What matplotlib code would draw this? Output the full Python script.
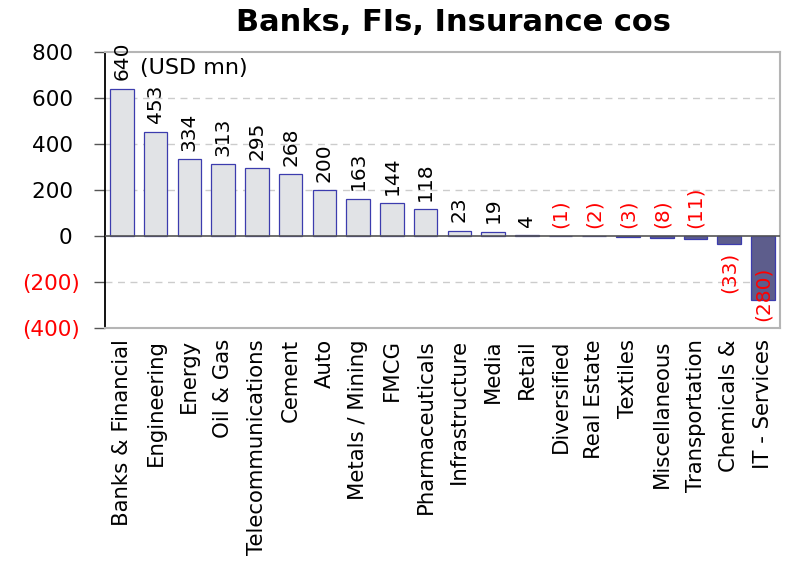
import matplotlib
matplotlib.use("Agg")
import matplotlib.pyplot as plt
from matplotlib.ticker import FuncFormatter

# data (USD mn)
sectors = [
    "Banks & Financial", "Engineering", "Energy", "Oil & Gas", "Telecommunications",
    "Cement", "Auto", "Metals / Mining", "FMCG", "Pharmaceuticals", "Infrastructure",
    "Media", "Retail", "Diversified", "Real Estate", "Textiles", "Miscellaneous",
    "Transportation", "Chemicals &", "IT - Services",
]
flows = [640, 453, 334, 313, 295, 268, 200, 163, 144, 118, 23, 19, 4,
         -1, -2, -3, -8, -11, -33, -280]
yticks = [-400, -200, 0, 200, 400, 600, 800]


def fmt(v):
    return f"({abs(v):,.0f})" if v < 0 else f"{v:,.0f}"


fig = plt.figure(figsize=(7.87, 5.69), dpi=100)
ax = fig.add_axes([0.1334, 0.4235, 0.8576, 0.4851])

pos_fill, neg_fill, edge = "#e1e3e6", "#5d5d8c", "#3c3cae"
colors = [pos_fill if v >= 0 else neg_fill for v in flows]
x = range(len(flows))
ax.bar(x, flows, width=0.7, color=colors, edgecolor=edge, linewidth=0.9, zorder=3)

ax.set_ylim(yticks[0], yticks[-1])
ax.set_xlim(-0.5, len(flows) - 0.5)
ax.set_yticks(yticks)
# accounting style: positives leave room for the closing parenthesis
ax.yaxis.set_major_formatter(FuncFormatter(lambda v, _: fmt(v) if v < 0 else fmt(v) + " "))
for lbl, v in zip(ax.get_yticklabels(), yticks):
    lbl.set_color("red" if v < 0 else "black")
ax.tick_params(axis="y", labelsize=15.5, length=8, width=1, color="#555555", pad=10)

ax.set_xticks(list(x))
ax.set_xticklabels(sectors, rotation=90, fontsize=15.3)
ax.tick_params(axis="x", length=0, pad=8)

for v in yticks[1:-1]:
    if v != 0:
        ax.axhline(v, color="#cccccc", lw=1, ls=(0, (5, 4)), zorder=1)
ax.axhline(0, color="#555555", lw=1.2, zorder=4)

for s in ["top", "right", "bottom"]:
    ax.spines[s].set_color("#b5b5b5")
    ax.spines[s].set_linewidth(1.5)
ax.spines["left"].set_color("black")
ax.spines["left"].set_linewidth(1.3)

# value labels
ymin = yticks[0]
for i, v in enumerate(flows):
    col = "red" if v < 0 else "black"
    if v >= -20:
        ax.annotate(fmt(v), (i, max(v, 0)), xytext=(0, 6), textcoords="offset points",
                    rotation=90, ha="center", va="bottom", fontsize=14.5, color=col)
    elif v - 240 > ymin:
        ax.annotate(fmt(v), (i, v), xytext=(0, -6), textcoords="offset points",
                    rotation=90, ha="center", va="top", fontsize=14.5, color=col)
    else:
        ax.annotate(fmt(v), (i, ymin), xytext=(0, 5), textcoords="offset points",
                    rotation=90, ha="center", va="bottom", fontsize=14.5, color=col,
                    zorder=5)

ax.text(0.052, 0.978, "(USD mn)", transform=ax.transAxes, fontsize=16, va="top")

fig.text(0.576, 0.961, "Banks, FIs, Insurance cos", ha="center", va="center",
         fontsize=22, fontweight="bold")

fig.savefig("out.png", dpi=100, facecolor="white")
